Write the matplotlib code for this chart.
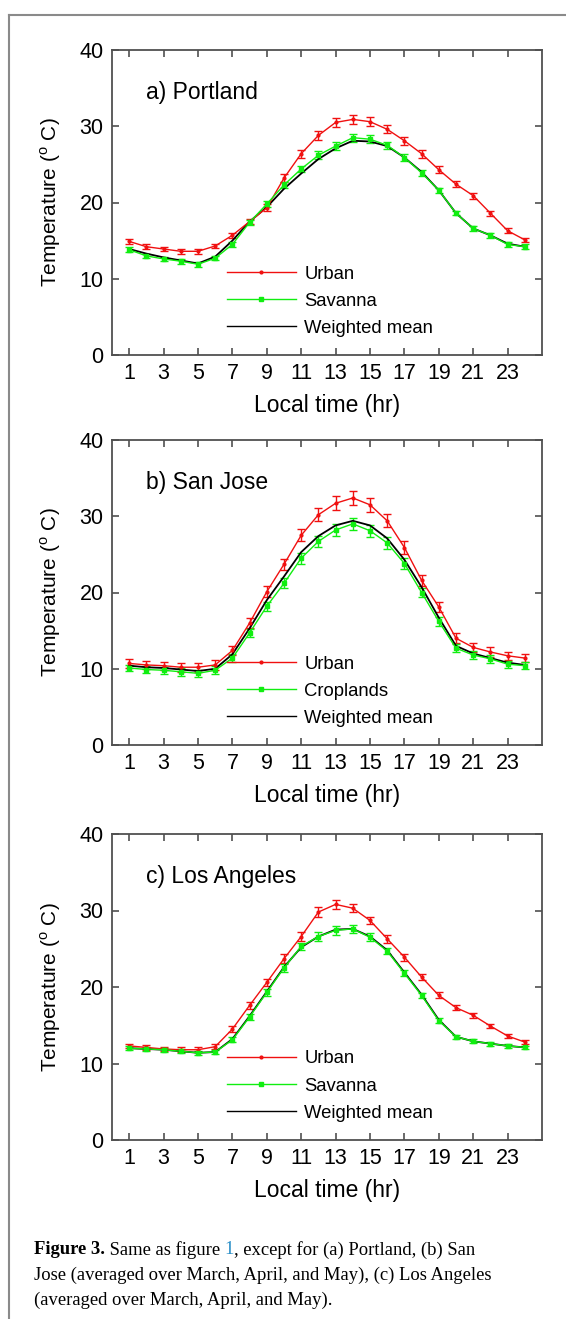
import numpy as np
import matplotlib.pyplot as plt
from matplotlib.lines import Line2D

plt.rcParams['font.family'] = ['Liberation Sans', 'DejaVu Sans']
plt.rcParams['mathtext.fontset'] = 'custom'
plt.rcParams['mathtext.rm'] = 'Liberation Sans'

hours = np.arange(1, 25)

# (a) Portland
portland_urban = [14.9, 14.2, 13.9, 13.6, 13.6, 14.3, 15.7, 17.5, 19.3, 23.2, 26.4, 28.8,
                  30.5, 30.9, 30.6, 29.6, 28.1, 26.4, 24.3, 22.4, 20.9, 18.6, 16.3, 15.1]
portland_urban_err = [0.3, 0.3, 0.3, 0.35, 0.35, 0.3, 0.3, 0.35, 0.45, 0.5, 0.5, 0.6,
                      0.6, 0.6, 0.6, 0.55, 0.55, 0.5, 0.45, 0.4, 0.4, 0.35, 0.3, 0.3]
portland_savanna = [13.8, 13.0, 12.6, 12.3, 11.9, 12.7, 14.5, 17.4, 19.8, 22.3, 24.4, 26.2,
                    27.4, 28.5, 28.3, 27.5, 25.9, 23.9, 21.6, 18.6, 16.6, 15.7, 14.5, 14.2]
portland_savanna_err = [0.3, 0.3, 0.3, 0.3, 0.35, 0.3, 0.3, 0.35, 0.4, 0.4, 0.45, 0.5,
                        0.5, 0.5, 0.5, 0.5, 0.45, 0.4, 0.35, 0.3, 0.3, 0.3, 0.3, 0.3]
portland_mean = [13.9, 13.3, 12.8, 12.4, 12.0, 12.9, 15.0, 17.5, 19.4, 21.8, 23.8, 25.7,
                 27.1, 28.1, 28.0, 27.4, 25.9, 24.0, 21.6, 18.6, 16.6, 15.7, 14.6, 14.2]

# (b) San Jose
sanjose_urban = [10.7, 10.5, 10.4, 10.2, 10.2, 10.5, 12.4, 16.0, 20.1, 23.7, 27.5, 30.2,
                 31.7, 32.4, 31.5, 29.4, 25.9, 21.6, 18.1, 14.0, 12.8, 12.2, 11.7, 11.4]
sanjose_urban_err = [0.55, 0.55, 0.55, 0.6, 0.6, 0.6, 0.6, 0.65, 0.7, 0.75, 0.8, 0.85,
                     0.9, 0.9, 0.9, 0.85, 0.8, 0.75, 0.7, 0.65, 0.6, 0.6, 0.55, 0.55]
sanjose_crop = [10.1, 9.9, 9.8, 9.6, 9.4, 9.8, 11.4, 14.7, 18.2, 21.2, 24.5, 26.7,
                28.2, 29.0, 28.1, 26.5, 23.8, 20.0, 16.2, 12.7, 11.8, 11.3, 10.6, 10.4]
sanjose_crop_err = [0.45, 0.45, 0.45, 0.5, 0.5, 0.5, 0.5, 0.55, 0.6, 0.65, 0.7, 0.75,
                    0.8, 0.8, 0.8, 0.75, 0.7, 0.65, 0.6, 0.55, 0.5, 0.5, 0.45, 0.45]
sanjose_mean = [10.4, 10.2, 10.1, 9.9, 9.7, 10.0, 11.9, 15.3, 19.0, 22.1, 25.3, 27.4,
                28.8, 29.4, 28.8, 27.1, 24.3, 20.7, 16.7, 13.0, 12.0, 11.4, 10.8, 10.5]

# (c) Los Angeles
la_urban = [12.3, 12.1, 11.9, 11.8, 11.8, 12.2, 14.5, 17.6, 20.6, 23.7, 26.6, 29.8,
            30.8, 30.3, 28.7, 26.3, 23.9, 21.3, 18.9, 17.3, 16.3, 14.9, 13.6, 12.8]
la_urban_err = [0.3, 0.3, 0.3, 0.3, 0.3, 0.35, 0.4, 0.45, 0.5, 0.55, 0.55, 0.6,
                0.6, 0.55, 0.5, 0.5, 0.45, 0.45, 0.4, 0.35, 0.35, 0.3, 0.3, 0.3]
la_savanna = [12.0, 11.9, 11.8, 11.6, 11.4, 11.5, 13.1, 16.1, 19.3, 22.5, 25.3, 26.6,
              27.4, 27.6, 26.5, 24.7, 21.8, 18.9, 15.6, 13.5, 12.9, 12.6, 12.3, 12.1]
la_savanna_err = [0.25, 0.25, 0.25, 0.25, 0.25, 0.3, 0.35, 0.4, 0.45, 0.5, 0.5, 0.55,
                  0.55, 0.55, 0.5, 0.45, 0.4, 0.35, 0.3, 0.25, 0.25, 0.25, 0.25, 0.25]
la_mean = [12.0, 11.9, 11.8, 11.6, 11.4, 11.5, 13.2, 16.2, 19.4, 22.6, 25.2, 26.6,
           27.5, 27.6, 26.6, 24.8, 21.9, 19.0, 15.7, 13.5, 12.9, 12.6, 12.3, 12.1]

panels = [
    ('a) Portland', 'Savanna', portland_urban, portland_urban_err,
     portland_savanna, portland_savanna_err, portland_mean),
    ('b) San Jose', 'Croplands', sanjose_urban, sanjose_urban_err,
     sanjose_crop, sanjose_crop_err, sanjose_mean),
    ('c) Los Angeles', 'Savanna', la_urban, la_urban_err,
     la_savanna, la_savanna_err, la_mean),
]

RED = '#f01010'
GREEN = '#10ee10'
SPINE = '#505050'

W, H = 566, 1319
fig = plt.figure(figsize=(W / 100, H / 100), dpi=100)

# axes boxes in pixels: (left, top, right, bottom)
boxes = [(112, 50, 542, 355), (112, 440, 542, 745), (112, 834, 542, 1140)]

for (title, other, urb, urb_err, oth, oth_err, mean), (l, t, r, b) in zip(panels, boxes):
    ax = fig.add_axes([l / W, 1 - b / H, (r - l) / W, (b - t) / H])
    ax.errorbar(hours, urb, yerr=urb_err, color=RED, lw=1.0, marker='.', ms=4,
                capsize=3, elinewidth=1.0, capthick=1.0)
    ax.errorbar(hours, oth, yerr=oth_err, color=GREEN, lw=1.0, marker='s', ms=3,
                capsize=3, elinewidth=1.0, capthick=1.0)
    ax.plot(hours, mean, color='black', lw=1.3)

    ax.set_xlim(0, 25)
    ax.set_ylim(0, 40)
    ax.set_xticks(np.arange(1, 24, 2))
    ax.set_yticks([0, 10, 20, 30, 40])
    ax.tick_params(direction='in', length=5, width=1.2, color=SPINE,
                   top=True, right=True, labelsize=15.5, pad=6)
    for sp in ax.spines.values():
        sp.set_color(SPINE)
        sp.set_linewidth(1.3)
    ax.set_xlabel('Local time (hr)', fontsize=16.5, labelpad=7)
    ax.set_ylabel('Temperature ($^{\\rm o}$ C)', fontsize=15, labelpad=12)
    ax.text(0.079, 0.862, title, transform=ax.transAxes, fontsize=16.5, va='center')

    handles = [Line2D([], [], color=RED, lw=1.0, marker='.', ms=4),
               Line2D([], [], color=GREEN, lw=1.0, marker='s', ms=3),
               Line2D([], [], color='black', lw=1.0)]
    ax.legend(handles, ['Urban', other, 'Weighted mean'], loc='upper left',
              bbox_to_anchor=(0.267, 0.293), frameon=False, fontsize=13.3,
              handlelength=3.75, handletextpad=0.45, labelspacing=0.55,
              borderpad=0, borderaxespad=0, numpoints=1)

# page frame lines
fig.add_artist(Line2D([9 / W, 1], [1 - 15 / H, 1 - 15 / H], color='#8a8a8a', lw=1.5))
fig.add_artist(Line2D([9 / W, 9 / W], [0, 1 - 15 / H], color='#8a8a8a', lw=1.5))

# caption, written as consecutive text runs
serif = ['Liberation Serif', 'DejaVu Serif']
cap_fs = 13.4
renderer = fig.canvas.get_renderer()
caption = [
    [('Figure 3.', 'bold', 'black'), (' Same as figure ', 'normal', 'black'),
     ('1', 'normal', '#2a8fc8'), (', except for (a) Portland, (b) San', 'normal', 'black')],
    [('Jose (averaged over March, April, and May), (c) Los Angeles', 'normal', 'black')],
    [('(averaged over March, April, and May).', 'normal', 'black')],
]
for row, yc in zip(caption, [1250, 1275, 1300]):
    x = 34
    for txt, weight, col in row:
        t = fig.text(x / W, 1 - yc / H, txt, fontsize=cap_fs, family=serif,
                     weight=weight, color=col, va='center', ha='left')
        x = t.get_window_extent(renderer).x1

fig.savefig('out.png', dpi=100)
